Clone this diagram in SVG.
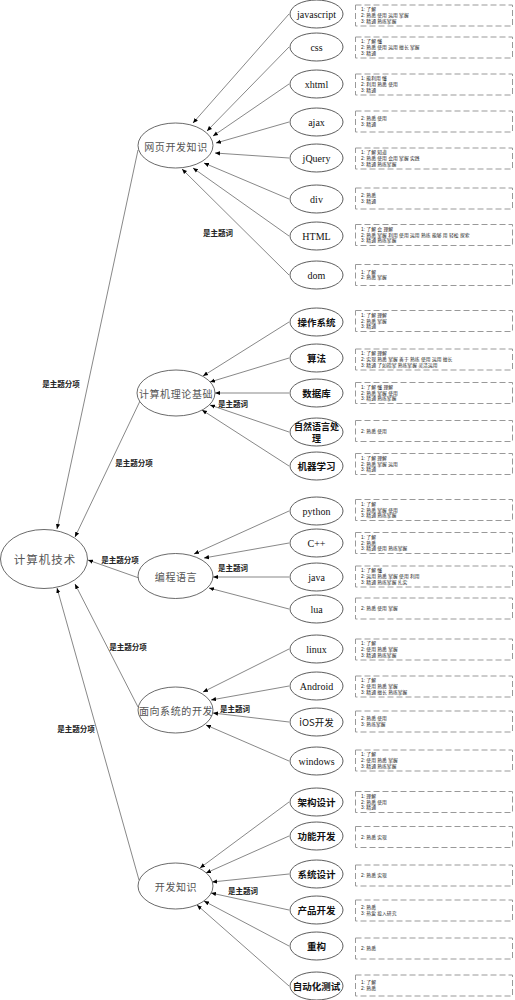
<svg xmlns="http://www.w3.org/2000/svg" width="515" height="1000" viewBox="0 0 515 1000">
<style>
.bg{fill:#fff}
.leaf{fill:#fff;stroke:#333;stroke-width:0.8}
.hub{fill:#fff;stroke:#444;stroke-width:0.8}
.en{font-family:"Liberation Serif",serif;font-size:10px;fill:#111;text-anchor:middle;dominant-baseline:central}
.zh{font-family:"Noto Sans CJK SC",sans-serif;font-size:9.5px;font-weight:bold;fill:#111;text-anchor:middle;dominant-baseline:central}
.ht{font-family:"Noto Sans CJK SC",sans-serif;font-size:10px;fill:#555;text-anchor:middle;dominant-baseline:central;letter-spacing:0.6px}
.rt{font-family:"Noto Sans CJK SC",sans-serif;font-size:11.5px;fill:#555;text-anchor:middle;dominant-baseline:central;letter-spacing:1px}
.box{fill:none;stroke:#999;stroke-width:1;stroke-dasharray:6 3}
.bt{font-family:"Liberation Sans","Noto Sans CJK SC",sans-serif;font-size:4.8px;fill:#222;dominant-baseline:central}
.lbl{font-family:"Noto Sans CJK SC",sans-serif;font-size:7.5px;font-weight:bold;fill:#222;text-anchor:middle;dominant-baseline:central}
.edge{stroke:#555;stroke-width:0.7;fill:none;marker-end:url(#arr)}
</style>
<defs>
<marker id="arr" markerWidth="6" markerHeight="6" refX="5" refY="3" orient="auto" markerUnits="userSpaceOnUse"><path d="M0,0.9 L5,3 L0,5.1 z" fill="#000"/></marker>
</defs>
<rect class="bg" x="0" y="0" width="515" height="1000"/>

<g id="connectors">
<line class="edge" x1="289" y1="14" x2="193" y2="123"/>
<line class="edge" x1="289" y1="47" x2="207" y2="131"/>
<line class="edge" x1="289" y1="84" x2="213" y2="136"/>
<line class="edge" x1="289" y1="122" x2="216" y2="143"/>
<line class="edge" x1="289" y1="158" x2="215" y2="153"/>
<line class="edge" x1="289" y1="199" x2="204" y2="163"/>
<line class="edge" x1="289" y1="236" x2="193" y2="168"/>
<line class="edge" x1="289" y1="275" x2="182" y2="169"/>
<line class="edge" x1="289" y1="322" x2="203" y2="376"/>
<line class="edge" x1="289" y1="358" x2="210" y2="382"/>
<line class="edge" x1="289" y1="393" x2="215" y2="393"/>
<line class="edge" x1="289" y1="432" x2="210" y2="405"/>
<line class="edge" x1="289" y1="466" x2="202" y2="410"/>
<line class="edge" x1="289" y1="511" x2="194" y2="554"/>
<line class="edge" x1="289" y1="543" x2="204" y2="558"/>
<line class="edge" x1="289" y1="577" x2="213" y2="577"/>
<line class="edge" x1="289" y1="609" x2="209" y2="588"/>
<line class="edge" x1="289" y1="649" x2="203" y2="692"/>
<line class="edge" x1="289" y1="686" x2="211" y2="700"/>
<line class="edge" x1="289" y1="722" x2="213" y2="713"/>
<line class="edge" x1="289" y1="761" x2="206" y2="725"/>
<line class="edge" x1="289" y1="802" x2="200" y2="868"/>
<line class="edge" x1="289" y1="836" x2="206" y2="873"/>
<line class="edge" x1="289" y1="874" x2="212" y2="882"/>
<line class="edge" x1="289" y1="910" x2="211" y2="893"/>
<line class="edge" x1="289" y1="946" x2="204" y2="901"/>
<line class="edge" x1="289" y1="986" x2="197" y2="905"/>
<line class="edge" x1="138" y1="150" x2="57" y2="529"/>
<line class="edge" x1="140" y1="401" x2="75" y2="537"/>
<line class="edge" x1="139" y1="578" x2="88" y2="560"/>
<line class="edge" x1="138" y1="707" x2="75" y2="584"/>
<line class="edge" x1="139" y1="880" x2="57" y2="588"/>
<text class="lbl" x="61" y="383">是主题分项</text>
<text class="lbl" x="134" y="462">是主题分项</text>
<text class="lbl" x="120" y="559">是主题分项</text>
<text class="lbl" x="128" y="646">是主题分项</text>
<text class="lbl" x="76" y="728">是主题分项</text>
<text class="lbl" x="218" y="232">是主题词</text>
<text class="lbl" x="233" y="403">是主题词</text>
<text class="lbl" x="233" y="567">是主题词</text>
<text class="lbl" x="235" y="708">是主题词</text>
<text class="lbl" x="243" y="890">是主题词</text>
</g>

<g id="root"><ellipse class="hub" cx="44" cy="559" rx="43.5" ry="29.5"/><text class="rt" x="45" y="559">计算机技术</text></g>
<g id="hub-web"><ellipse class="hub" cx="175.5" cy="145.5" rx="37.5" ry="22.5"/><text class="ht" x="176" y="146">网页开发知识</text></g>
<g id="hub-theory"><ellipse class="hub" cx="176" cy="393" rx="39" ry="23"/><text class="ht" x="176" y="393">计算机理论基础</text></g>
<g id="hub-lang"><ellipse class="hub" cx="175.5" cy="576" rx="37.5" ry="22.5"/><text class="ht" x="176" y="576">编程语言</text></g>
<g id="hub-sys"><ellipse class="hub" cx="175.5" cy="710" rx="37.5" ry="23"/><text class="ht" x="176" y="710">面向系统的开发</text></g>
<g id="hub-dev"><ellipse class="hub" cx="175.5" cy="886" rx="37.5" ry="23"/><text class="ht" x="176" y="886">开发知识</text></g>

<g id="n-javascript"><ellipse class="leaf" cx="316.5" cy="14" rx="26.5" ry="14"/><text class="en" x="316.5" y="14">javascript</text>
<rect class="box" x="355.5" y="5" width="157" height="21"/>
<text class="bt" x="361" y="9.8">1: 了解</text><text class="bt" x="361" y="15.5">2: 熟悉 使用 运用 掌握</text><text class="bt" x="361" y="21.2">3: 精通 熟练掌握</text></g>

<g id="n-css"><ellipse class="leaf" cx="316.5" cy="47" rx="26.5" ry="14"/><text class="en" x="316.5" y="47">css</text>
<rect class="box" x="355.5" y="37" width="157" height="21"/>
<text class="bt" x="361" y="41.8">1: 了解 懂</text><text class="bt" x="361" y="47.5">2: 熟悉 使用 运用 擅长 掌握</text><text class="bt" x="361" y="53.2">3: 精通</text></g>

<g id="n-xhtml"><ellipse class="leaf" cx="316.5" cy="84" rx="26.5" ry="14"/><text class="en" x="316.5" y="84">xhtml</text>
<rect class="box" x="355.5" y="74" width="157" height="21"/>
<text class="bt" x="361" y="78.8">1: 能利用 懂</text><text class="bt" x="361" y="84.5">2: 利用 熟悉 使用</text><text class="bt" x="361" y="90.2">3: 精通</text></g>

<g id="n-ajax"><ellipse class="leaf" cx="316.5" cy="122" rx="26.5" ry="14"/><text class="en" x="316.5" y="122">ajax</text>
<rect class="box" x="355.5" y="111" width="157" height="21"/>
<text class="bt" x="361" y="118.6">2: 熟悉 使用</text><text class="bt" x="361" y="124.3">3: 精通</text></g>

<g id="n-jquery"><ellipse class="leaf" cx="316.5" cy="158" rx="26.5" ry="14"/><text class="en" x="316.5" y="158">jQuery</text>
<rect class="box" x="355.5" y="148" width="157" height="21"/>
<text class="bt" x="361" y="152.8">1: 了解 知道</text><text class="bt" x="361" y="158.5">2: 熟悉 使用 会用 掌握 实践</text><text class="bt" x="361" y="164.2">3: 精通 熟练掌握</text></g>

<g id="n-div"><ellipse class="leaf" cx="316.5" cy="199" rx="26.5" ry="14"/><text class="en" x="316.5" y="199">div</text>
<rect class="box" x="355.5" y="188" width="157" height="21"/>
<text class="bt" x="361" y="195.6">2: 熟悉</text><text class="bt" x="361" y="201.3">3: 精通</text></g>

<g id="n-html"><ellipse class="leaf" cx="316.5" cy="236" rx="26.5" ry="14"/><text class="en" x="316.5" y="236">HTML</text>
<rect class="box" x="355.5" y="224.5" width="157" height="21"/>
<text class="bt" x="361" y="229.3">1: 了解 会 理解</text><text class="bt" x="361" y="235">2: 熟悉 掌握 利用 使用 运用 熟练 能够 用 轻松 探索</text><text class="bt" x="361" y="240.7">3: 精通 熟练掌握</text></g>

<g id="n-dom"><ellipse class="leaf" cx="316.5" cy="275" rx="26.5" ry="14"/><text class="en" x="316.5" y="275">dom</text>
<rect class="box" x="355.5" y="264.5" width="157" height="21"/>
<text class="bt" x="361" y="272.1">1: 了解</text><text class="bt" x="361" y="277.8">2: 熟悉 掌握</text></g>

<g id="n-os"><ellipse class="leaf" cx="316.5" cy="322" rx="26.5" ry="14"/><text class="zh" x="316.5" y="322">操作系统</text>
<rect class="box" x="355.5" y="310.5" width="157" height="21"/>
<text class="bt" x="361" y="315.3">1: 了解 理解</text><text class="bt" x="361" y="321">2: 熟悉 掌握</text><text class="bt" x="361" y="326.7">3: 精通</text></g>

<g id="n-algo"><ellipse class="leaf" cx="316.5" cy="358" rx="26.5" ry="14"/><text class="zh" x="316.5" y="358">算法</text>
<rect class="box" x="355.5" y="349" width="157" height="21"/>
<text class="bt" x="361" y="353.8">1: 了解 理解</text><text class="bt" x="361" y="359.5">2: 实现 熟悉 掌握 善于 熟练 使用 运用 擅长</text><text class="bt" x="361" y="365.2">3: 精通 了如指掌 熟练掌握 灵活运用</text></g>

<g id="n-db"><ellipse class="leaf" cx="316.5" cy="393" rx="26.5" ry="14"/><text class="zh" x="316.5" y="393">数据库</text>
<rect class="box" x="355.5" y="382.5" width="157" height="21"/>
<text class="bt" x="361" y="387.3">1: 了解 懂 理解</text><text class="bt" x="361" y="393">2: 熟悉 掌握 使用</text><text class="bt" x="361" y="398.7">3: 精通 熟练掌握</text></g>

<g id="n-nlp"><ellipse class="leaf" cx="316.5" cy="432" rx="26.5" ry="14"/><text class="zh" x="316.5" y="426" style="font-size:9px">自然语言处</text><text class="zh" x="316.5" y="438.5" style="font-size:9px">理</text>
<rect class="box" x="355.5" y="420.5" width="157" height="21"/>
<text class="bt" x="361" y="431">2: 熟悉 使用</text></g>

<g id="n-ml"><ellipse class="leaf" cx="316.5" cy="466" rx="26.5" ry="14"/><text class="zh" x="316.5" y="466">机器学习</text>
<rect class="box" x="355.5" y="453.5" width="157" height="21"/>
<text class="bt" x="361" y="458.3">1: 了解 理解</text><text class="bt" x="361" y="464">2: 熟悉 掌握 运用</text><text class="bt" x="361" y="469.7">3: 精通</text></g>

<g id="n-python"><ellipse class="leaf" cx="316.5" cy="511" rx="26.5" ry="14"/><text class="en" x="316.5" y="511">python</text>
<rect class="box" x="355.5" y="499.5" width="157" height="21"/>
<text class="bt" x="361" y="504.3">1: 了解</text><text class="bt" x="361" y="510">2: 熟悉 掌握 使用</text><text class="bt" x="361" y="515.7">3: 精通 熟练掌握</text></g>

<g id="n-cpp"><ellipse class="leaf" cx="316.5" cy="543" rx="26.5" ry="14"/><text class="en" x="316.5" y="543">C++</text>
<rect class="box" x="355.5" y="532.5" width="157" height="21"/>
<text class="bt" x="361" y="537.3">1: 了解</text><text class="bt" x="361" y="543">2: 熟悉</text><text class="bt" x="361" y="548.7">3: 精通 使用 熟练掌握</text></g>

<g id="n-java"><ellipse class="leaf" cx="316.5" cy="577" rx="26.5" ry="14"/><text class="en" x="316.5" y="577">java</text>
<rect class="box" x="355.5" y="566" width="157" height="21"/>
<text class="bt" x="361" y="570.8">1: 了解 懂</text><text class="bt" x="361" y="576.5">2: 运用 熟悉 掌握 使用 利用</text><text class="bt" x="361" y="582.2">3: 精通 熟练掌握 扎实</text></g>

<g id="n-lua"><ellipse class="leaf" cx="316.5" cy="609" rx="26.5" ry="14"/><text class="en" x="316.5" y="609">lua</text>
<rect class="box" x="355.5" y="598" width="157" height="21"/>
<text class="bt" x="361" y="608.5">2: 熟悉 使用 掌握</text></g>

<g id="n-linux"><ellipse class="leaf" cx="316.5" cy="649" rx="26.5" ry="14"/><text class="en" x="316.5" y="649">linux</text>
<rect class="box" x="355.5" y="639" width="157" height="21"/>
<text class="bt" x="361" y="643.8">1: 了解</text><text class="bt" x="361" y="649.5">2: 使用 熟悉 掌握</text><text class="bt" x="361" y="655.2">3: 精通 熟练掌握</text></g>

<g id="n-android"><ellipse class="leaf" cx="316.5" cy="686" rx="26.5" ry="14"/><text class="en" x="316.5" y="686">Android</text>
<rect class="box" x="355.5" y="676" width="157" height="21"/>
<text class="bt" x="361" y="680.8">1: 了解</text><text class="bt" x="361" y="686.5">2: 使用 熟悉 掌握</text><text class="bt" x="361" y="692.2">3: 精通 擅长 熟练掌握</text></g>

<g id="n-ios"><ellipse class="leaf" cx="316.5" cy="722" rx="26.5" ry="14"/><text class="zh" x="316.5" y="722" style="font-weight:normal">iOS开发</text>
<rect class="box" x="355.5" y="711" width="157" height="21"/>
<text class="bt" x="361" y="718.6">2: 熟悉 使用</text><text class="bt" x="361" y="724.3">3: 熟练掌握</text></g>

<g id="n-windows"><ellipse class="leaf" cx="316.5" cy="761" rx="26.5" ry="14"/><text class="en" x="316.5" y="761">windows</text>
<rect class="box" x="355.5" y="750" width="157" height="21"/>
<text class="bt" x="361" y="754.8">1: 了解</text><text class="bt" x="361" y="760.5">2: 使用 熟悉 掌握</text><text class="bt" x="361" y="766.2">3: 精通 熟练掌握</text></g>

<g id="n-arch"><ellipse class="leaf" cx="316.5" cy="802" rx="26.5" ry="14"/><text class="zh" x="316.5" y="802">架构设计</text>
<rect class="box" x="355.5" y="791.5" width="157" height="21"/>
<text class="bt" x="361" y="796.3">1: 理解</text><text class="bt" x="361" y="802">2: 熟悉 使用</text><text class="bt" x="361" y="807.7">3: 精通</text></g>

<g id="n-func"><ellipse class="leaf" cx="316.5" cy="836" rx="26.5" ry="14"/><text class="zh" x="316.5" y="836">功能开发</text>
<rect class="box" x="355.5" y="826.5" width="157" height="21"/>
<text class="bt" x="361" y="837">2: 熟悉 实现</text></g>

<g id="n-sysdesign"><ellipse class="leaf" cx="316.5" cy="874" rx="26.5" ry="14"/><text class="zh" x="316.5" y="874">系统设计</text>
<rect class="box" x="355.5" y="865" width="157" height="21"/>
<text class="bt" x="361" y="875.5">2: 熟悉 实现</text></g>

<g id="n-product"><ellipse class="leaf" cx="316.5" cy="910" rx="26.5" ry="14"/><text class="zh" x="316.5" y="910">产品开发</text>
<rect class="box" x="355.5" y="900" width="157" height="21"/>
<text class="bt" x="361" y="907.6">2: 熟悉</text><text class="bt" x="361" y="913.3">3: 热爱 投入研究</text></g>

<g id="n-refactor"><ellipse class="leaf" cx="316.5" cy="946" rx="26.5" ry="14"/><text class="zh" x="316.5" y="946">重构</text>
<rect class="box" x="355.5" y="938" width="157" height="21"/>
<text class="bt" x="361" y="948.5">2: 熟悉</text></g>

<g id="n-autotest"><ellipse class="leaf" cx="316.5" cy="986" rx="26.5" ry="14"/><text class="zh" x="316.5" y="986">自动化测试</text>
<rect class="box" x="355.5" y="975" width="157" height="21"/>
<text class="bt" x="361" y="982.6">1: 了解</text><text class="bt" x="361" y="988.3">2: 熟悉</text></g>
</svg>
